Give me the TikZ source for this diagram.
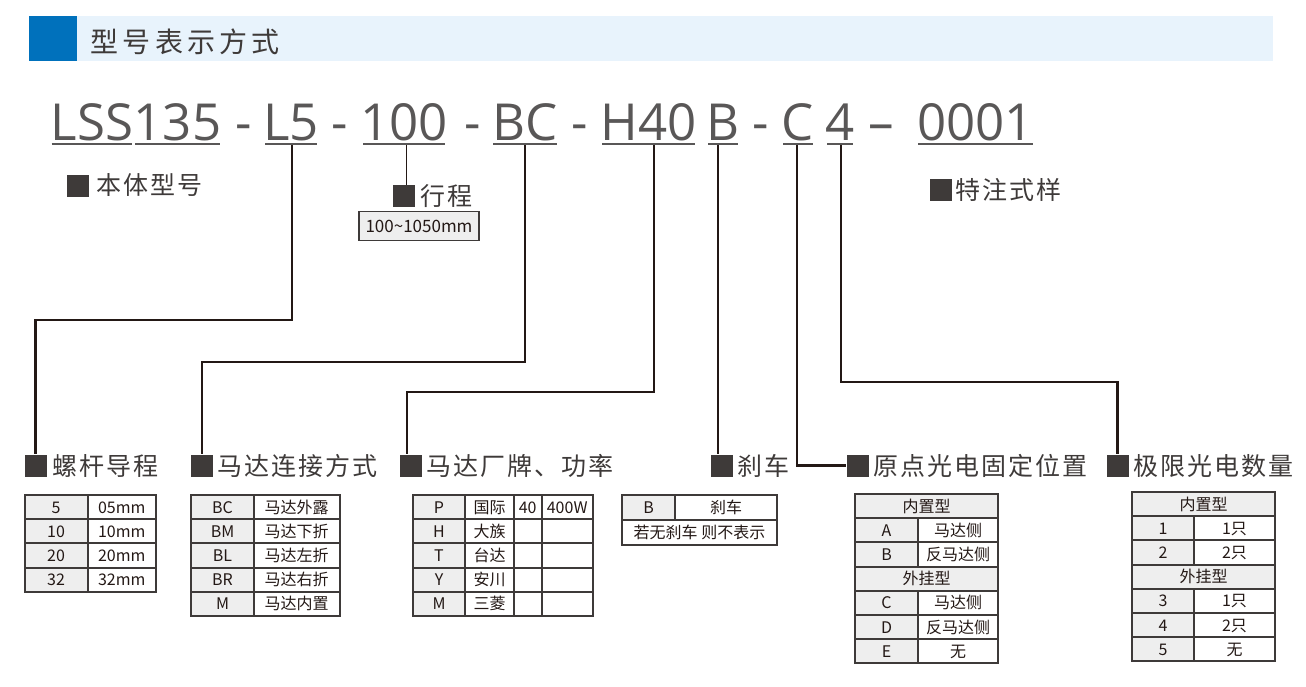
\documentclass[tikz,border=0pt]{standalone}
\usepackage{fontspec}
\setmainfont{Noto Sans CJK SC}
\newfontfamily\codefont{Open Sans}
\newfontfamily\lblfont[LetterSpace=8]{Noto Sans CJK SC}
\newfontfamily\ttlfont[LetterSpace=15]{Noto Sans CJK SC}
\definecolor{blueA}{HTML}{0071BC}
\definecolor{barC}{HTML}{E8F3FC}
\definecolor{titleC}{HTML}{3E3A39}
\definecolor{codeC}{HTML}{595757}
\definecolor{lineC}{HTML}{231815}
\definecolor{sqC}{HTML}{3E3A39}
\definecolor{lblC}{HTML}{3E3A39}
\definecolor{tgray}{HTML}{EEEEEE}
\definecolor{tborder}{HTML}{3E3A39}
\definecolor{ttext}{HTML}{231815}
\begin{document}
\begin{tikzpicture}[x=1pt,y=-1pt,
  conn/.style={line width=2.2pt, draw=lineC},
  thinconn/.style={line width=1.3pt, draw=lineC},
  uline/.style={line width=2.5pt, draw=codeC},
  code/.style={anchor=base, inner sep=0, text=codeC, font=\codefont\fontsize{51}{56}\selectfont},
  lbl/.style={anchor=base west, inner sep=0, text=lblC, font=\lblfont\fontsize{25}{27}\selectfont},
  sq/.style={fill=sqC, minimum size=22pt, inner sep=0},
  tline/.style={line width=2pt, draw=tborder},
  tt/.style={anchor=base, inner sep=0, text=ttext, font=\fontsize{16}{18}\selectfont},
]
\useasboundingbox (0,0) rectangle (1306,686);
% title bar
\fill[barC] (77,16) rectangle (1273,61);
\fill[blueA] (29,16) rectangle (77,61);
\node[anchor=base west, inner sep=0, text=titleC, font=\ttlfont\fontsize{28}{30}\selectfont] (title) at (90.5,52.5) {型号表示方式};

% model code
\node[code] (cLSS) at (92,140) {LSS};
\node[code] (c135) at (177.5,140) {135};
\node[code] (h1) at (243.3,140) {-};
\node[code] (cL5) at (291,140) {L5};
\node[code] (h2) at (340,140) {-};
\node[code] (c100) at (404,140) {100};
\node[code] (h3) at (472.5,140) {-};
\node[code] (cBC) at (525,140) {BC};
\node[code] (h4) at (579.5,140) {-};
\node[code] (cH40) at (648.5,140) {H40};
\node[code] (cB) at (723,140) {B};
\node[code] (h5) at (761,140) {-};
\node[code] (cC) at (798,140) {C};
\node[code] (c4) at (840,140) {4};
\node[code] (h6) at (881,140) {–};
\node[code] (c0001) at (975.5,140) {0001};
% underlines
\draw[uline] (51.7,144) -- (131.7,144);
\draw[uline] (135,144) -- (220,144);
\draw[uline] (265,144) -- (316.7,144);
\draw[uline] (363,144) -- (445,144);
\draw[uline] (493,144) -- (557,144);
\draw[uline] (602,144) -- (695,144);
\draw[uline] (708,144) -- (738,144);
\draw[uline] (783,144) -- (813,144);
\draw[uline] (827,144) -- (853,144);
\draw[uline] (918,144) -- (1033,144);
\coordinate (uL5) at (291.7,145);
\coordinate (u100) at (406.7,145);
\coordinate (uBC) at (525,145);
\coordinate (uH40) at (654.3,145);
\coordinate (uB) at (718.3,145);
\coordinate (uC) at (796.7,145);
\coordinate (u4) at (841,145);

% top labels
\node[sq] (sqBody) at (78,185.5) {};
\node[lbl] (lBody) at (96,194.5) {本体型号};
\node[sq] (sqStroke) at (403.5,196) {};
\node[lbl] (lStroke) at (420,205.5) {行程};
\node[draw=tborder, line width=1.3pt, fill=tgray, minimum width=120pt, minimum height=29pt, inner sep=0, text=ttext, font=\fontsize{17}{19}\selectfont] (stroke) at (419,226) {100\textasciitilde1050mm};
\node[sq] (sqSpec) at (940.5,190) {};
\node[lbl] (lSpec) at (955,199.5) {特注式样};

% bottom labels
\node[sq] (sqLead) at (35.5,465.5) {};
\node[lbl] (lLead) at (52,475.5) {螺杆导程};
\node[sq] (sqMot) at (202,465.5) {};
\node[lbl] (lMot) at (217,475.5) {马达连接方式};
\node[sq] (sqBrand) at (410.5,465.5) {};
\node[lbl] (lBrand) at (426,475.5) {马达厂牌、功率};
\node[sq] (sqBrake) at (721.5,465.5) {};
\node[lbl] (lBrake) at (737.5,475.5) {刹车};
\node[sq] (sqOrig) at (857.5,465.5) {};
\node[lbl] (lOrig) at (873.5,475.5) {原点光电固定位置};
\node[sq] (sqLim) at (1117.5,465.5) {};
\node[lbl] (lLim) at (1133.5,475.5) {极限光电数量};

% connectors
\draw[conn] (uL5) -- (uL5 |- 0,319.7) -| (sqLead.north);
\draw[thinconn] (u100) -- (u100 |- sqStroke.north);
\draw[conn] (uBC) -- (uBC |- 0,362) -| (sqMot.north);
\draw[conn] (uH40) -- (uH40 |- 0,392) -| ([xshift=-3.5pt]sqBrand.north);
\draw[conn] (uB) -- (uB |- sqBrake.north);
\draw[conn] (uC) |- (sqOrig.west);
\draw[conn] (u4) -- (u4 |- 0,381.7) -| (sqLim.north);

% table 1: lead
\fill[tgray] (24.5,495) rectangle (87.5,591.8);
\draw[tline] (24.5,495) rectangle (156,591.8);
\draw[tline] (87.5,495) -- (87.5,591.8);
\foreach \y in {519.2,543.4,567.6} \draw[tline] (24.5,\y) -- (156,\y);
\foreach \a/\b [count=\i] in {5/05mm,10/10mm,20/20mm,32/32mm}{
  \node[tt] (ta\i) at ({56},{495+24.2*\i-6.1}) {\a};
  \node[tt] (tb\i) at ({121.7},{495+24.2*\i-6.1}) {\b};
}

% table 2: motor connection
\fill[tgray] (191,495) rectangle (254,616);
\draw[tline] (191,495) rectangle (339.5,616);
\draw[tline] (254,495) -- (254,616);
\foreach \y in {519.2,543.4,567.6,591.8} \draw[tline] (191,\y) -- (339.5,\y);
\foreach \a/\b [count=\i] in {BC/马达外露,BM/马达下折,BL/马达左折,BR/马达右折,M/马达内置}{
  \node[tt] (tc\i) at ({222.5},{495+24.2*\i-6.1}) {\a};
  \node[tt] (td\i) at ({296.7},{495+24.2*\i-6.1}) {\b};
}

% table 3: brand / power
\fill[tgray] (413,495) rectangle (465,616);
\draw[tline] (413,495) rectangle (593,616);
\foreach \x in {465,514,541.5} \draw[tline] (\x,495) -- (\x,616);
\foreach \y in {519.2,543.4,567.6,591.8} \draw[tline] (413,\y) -- (593,\y);
\foreach \a/\b [count=\i] in {P/国际,H/大族,T/台达,Y/安川,M/三菱}{
  \node[tt] (te\i) at ({439},{495+24.2*\i-6.1}) {\a};
  \node[tt] (tf\i) at ({489.5},{495+24.2*\i-6.1}) {\b};
}
\node[tt] (tg1) at (527.7,513) {40};
\node[tt] (th1) at (567.2,513) {400W};

% table 4: brake
\fill[tgray] (622,495) rectangle (675,519.5);
\draw[tline] (622,495) rectangle (777,545);
\draw[tline] (675,495) -- (675,519.5);
\draw[tline] (622,519.5) -- (777,519.5);
\node[tt] (ti1) at (648.5,513.3) {B};
\node[tt] (tj1) at (726,513.3) {刹车};
\node[tt] (tk1) at (699.5,538.3) {若无刹车 则不表示};

% table 5: origin sensor
\fill[tgray] (855,494) rectangle (918,663.4);
\fill[tgray] (855,494) rectangle (998,518.2);
\fill[tgray] (855,566.6) rectangle (998,590.8);
\draw[tline] (855,494) rectangle (998,663.4);
\draw[tline] (918,518.2) -- (918,566.6);
\draw[tline] (918,590.8) -- (918,663.4);
\foreach \y in {518.2,542.4,566.6,590.8,615,639.2} \draw[tline] (855,\y) -- (998,\y);
\node[tt] (tl0) at (926.5,512.1) {内置型};
\node[tt] (tl3) at (926.5,584.7) {外挂型};
\foreach \a/\b/\k in {A/马达侧/2,B/反马达侧/3,C/马达侧/5,D/反马达侧/6,E/无/7}{
  \node[tt] (tm\k) at ({886.5},{494+24.2*\k-6.1}) {\a};
  \node[tt] (tn\k) at ({958},{494+24.2*\k-6.1}) {\b};
}

% table 6: limit sensor
\fill[tgray] (1132,492) rectangle (1194,661.4);
\fill[tgray] (1132,492) rectangle (1275,516.2);
\fill[tgray] (1132,564.6) rectangle (1275,588.8);
\draw[tline] (1132,492) rectangle (1275,661.4);
\draw[tline] (1194,516.2) -- (1194,564.6);
\draw[tline] (1194,588.8) -- (1194,661.4);
\foreach \y in {516.2,540.4,564.6,588.8,613,637.2} \draw[tline] (1132,\y) -- (1275,\y);
\node[tt] (to0) at (1203.5,510.1) {内置型};
\node[tt] (to3) at (1203.5,582.7) {外挂型};
\foreach \a/\b/\k in {1/1只/2,2/2只/3,3/1只/5,4/2只/6,5/无/7}{
  \node[tt] (tp\k) at ({1163},{492+24.2*\k-6.1}) {\a};
  \node[tt] (tq\k) at ({1234.5},{492+24.2*\k-6.1}) {\b};
}
\end{tikzpicture}
\end{document}
